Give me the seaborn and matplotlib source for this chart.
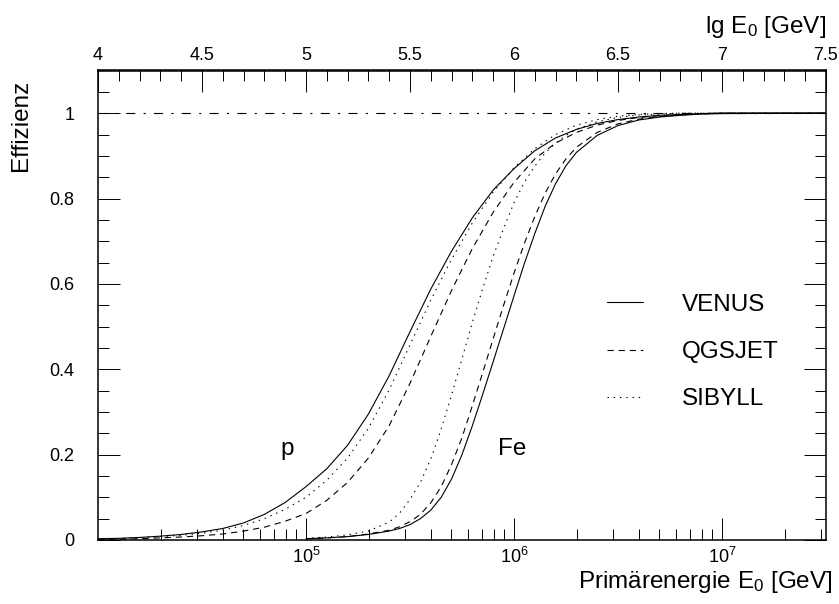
import numpy as np
import pandas as pd
import matplotlib
matplotlib.use("Agg")
import matplotlib.pyplot as plt
from matplotlib.lines import Line2D
from matplotlib.ticker import FixedLocator, LogLocator, MultipleLocator, FormatStrFormatter, NullFormatter
import seaborn as sns

# ---------------- data ----------------
lg_p = [4.0, 4.1, 4.2, 4.3, 4.4, 4.5, 4.6, 4.7, 4.8, 4.9, 5.0, 5.1, 5.2, 5.3, 5.4,
        5.5, 5.6, 5.7, 5.8, 5.9, 6.0, 6.1, 6.2, 6.3, 6.4, 6.5, 6.6, 6.7, 6.8, 6.9,
        7.0, 7.5]
venus_p = [0.003, 0.004, 0.006, 0.009, 0.013, 0.019, 0.027, 0.040, 0.060, 0.088,
           0.125, 0.167, 0.222, 0.295, 0.385, 0.488, 0.588, 0.677, 0.755, 0.82,
           0.87, 0.912, 0.942, 0.962, 0.976, 0.985, 0.991, 0.995, 0.997, 0.999,
           1.0, 1.0]
qgsjet_p = [0.001, 0.002, 0.003, 0.005, 0.007, 0.010, 0.014, 0.021, 0.030, 0.044,
            0.062, 0.093, 0.135, 0.192, 0.268, 0.367, 0.477, 0.585, 0.683, 0.768,
            0.838, 0.893, 0.93, 0.955, 0.972, 0.983, 0.99, 0.994, 0.997, 0.999,
            1.0, 1.0]
sibyll_p = [0.002, 0.003, 0.005, 0.008, 0.011, 0.016, 0.023, 0.034, 0.05, 0.072,
            0.10, 0.14, 0.192, 0.262, 0.352, 0.457, 0.562, 0.658, 0.743, 0.815,
            0.872, 0.917, 0.950, 0.972, 0.985, 0.993, 0.997, 0.999, 1.0, 1.0,
            1.0, 1.0]

lg_fe = [5.0, 5.1, 5.2, 5.3, 5.4, 5.45, 5.5, 5.55, 5.6, 5.65, 5.7, 5.75, 5.8, 5.85,
         5.9, 5.95, 6.0, 6.05, 6.1, 6.15, 6.2, 6.25, 6.3, 6.4, 6.5, 6.6, 6.7, 6.8,
         6.9, 7.0, 7.5]
venus_fe = [0.003, 0.005, 0.008, 0.013, 0.021, 0.027, 0.036, 0.05, 0.07, 0.10,
            0.143, 0.20, 0.268, 0.342, 0.418, 0.495, 0.572, 0.648, 0.718, 0.782,
            0.835, 0.877, 0.908, 0.948, 0.971, 0.984, 0.991, 0.995, 0.998, 0.999,
            1.0]
qgsjet_fe = [0.003, 0.005, 0.008, 0.014, 0.023, 0.031, 0.043, 0.06, 0.087, 0.125,
             0.177, 0.24, 0.315, 0.393, 0.472, 0.55, 0.625, 0.695, 0.758, 0.813,
             0.858, 0.893, 0.92, 0.955, 0.975, 0.986, 0.992, 0.996, 0.998, 1.0,
             1.0]
sibyll_fe = [0.004, 0.007, 0.012, 0.021, 0.042, 0.063, 0.095, 0.135, 0.19, 0.26,
             0.34, 0.425, 0.51, 0.59, 0.665, 0.73, 0.79, 0.838, 0.876, 0.907,
             0.93, 0.948, 0.962, 0.98, 0.99, 0.996, 0.998, 1.0, 1.0, 1.0,
             1.0]

models = ["VENUS", "QGSJET", "SIBYLL"]
particles = ["p", "Fe"]
ref_level = 1.0
top_ticks = [4, 4.5, 5, 5.5, 6, 6.5, 7, 7.5]
bottom_major = [1e5, 1e6, 1e7]

# ---------------- build long table ----------------
series = {
    ("VENUS", "p"): (lg_p, venus_p), ("QGSJET", "p"): (lg_p, qgsjet_p),
    ("SIBYLL", "p"): (lg_p, sibyll_p), ("VENUS", "Fe"): (lg_fe, venus_fe),
    ("QGSJET", "Fe"): (lg_fe, qgsjet_fe), ("SIBYLL", "Fe"): (lg_fe, sibyll_fe),
}
rows = []
for (m, part), (lgs, vals) in series.items():
    for l, v in zip(lgs, vals):
        rows.append({"model": m, "particle": part, "E": 10.0 ** l, "eff": v})
df = pd.DataFrame(rows)

# ---------------- style ----------------
sns.set_theme(style="ticks")
plt.rcParams["font.family"] = ["Liberation Sans", "DejaVu Sans"]
plt.rcParams["mathtext.fontset"] = "custom"
plt.rcParams["mathtext.rm"] = "Liberation Sans"
plt.rcParams["mathtext.it"] = "Liberation Sans:italic"
plt.rcParams["mathtext.bf"] = "Liberation Sans:bold"
plt.rcParams["lines.scale_dashes"] = False
for k in ["text.color", "axes.labelcolor", "xtick.color", "ytick.color", "axes.edgecolor"]:
    plt.rcParams[k] = "black"

TICK_FS = 13
BIG_FS = 17.5
LW = 0.8

dash_map = {"VENUS": "", "QGSJET": (4.5, 3.5), "SIBYLL": (1.0, 3.5)}

fig = plt.figure(figsize=(8.39, 6.04), dpi=100)
ax = fig.add_axes([98 / 839, 1 - 540 / 604, 728 / 839, 469.5 / 604])

sns.lineplot(data=df, x="E", y="eff", style="model", units="particle",
             estimator=None, sort=False, color="black", linewidth=LW,
             dashes=dash_map, style_order=models, legend=False, ax=ax)

ax.axhline(ref_level, color="black", lw=LW, linestyle=(0, (6.5, 6, 1.5, 6)), zorder=1)

ax.set_xscale("log")
ax.set_xlim(1e4, 10 ** 7.5)
ax.set_ylim(0, 1.1)

# bottom axis ticks
ax.xaxis.set_major_locator(FixedLocator(bottom_major))
ax.xaxis.set_minor_locator(LogLocator(base=10, subs=np.arange(2, 10), numticks=20))
ax.xaxis.set_minor_formatter(NullFormatter())
ax.tick_params(axis="x", which="both", direction="in", top=False, bottom=True,
               labelsize=TICK_FS, pad=5)
# y ticks
ax.yaxis.set_major_locator(MultipleLocator(0.2))
ax.yaxis.set_minor_locator(MultipleLocator(0.05))
ax.yaxis.set_major_formatter(FormatStrFormatter("%g"))
ax.tick_params(axis="y", which="both", direction="in", left=True, right=True,
               labelsize=TICK_FS, pad=17)
ax.tick_params(which="major", length=16, width=0.7, color="black")
ax.tick_params(which="minor", length=8, width=0.7, color="black")
for s in ax.spines.values():
    s.set_linewidth(1.1)
    s.set_color("black")

# top axis in lg E0
secax = ax.secondary_xaxis("top", functions=(np.log10, lambda v: np.power(10.0, v)))
secax.xaxis.set_major_locator(FixedLocator(top_ticks))
secax.xaxis.set_minor_locator(MultipleLocator(0.1))
secax.xaxis.set_major_formatter(FormatStrFormatter("%g"))
secax.xaxis.set_minor_formatter(NullFormatter())
secax.tick_params(which="both", direction="in", labelsize=TICK_FS, pad=5, color="black")
secax.tick_params(which="major", length=16, width=0.7)
secax.tick_params(which="minor", length=8, width=0.7)
secax.spines["top"].set_linewidth(1.1)
secax.set_xlabel(r"lg $\mathregular{E_0}$ [GeV]", loc="right", fontsize=BIG_FS, labelpad=10)

ax.set_xlabel(r"Primärenergie $\mathregular{E_0}$ [GeV]", loc="right", fontsize=BIG_FS)
ax.xaxis.set_label_coords(1.0096, -0.062)
ax.set_ylabel("Effizienz", loc="top", fontsize=BIG_FS)
ax.yaxis.set_label_coords(-0.09, 0.98)

# particle labels
ax.text(10 ** 4.875, 0.2, "p", fontsize=BIG_FS, ha="left", va="baseline")
ax.text(10 ** 5.923, 0.2, "Fe", fontsize=BIG_FS, ha="left", va="baseline")

# legend
handles = [Line2D([], [], color="black", lw=LW,
                  linestyle="-" if dash_map[m] == "" else (0, dash_map[m])) for m in models]
ax.legend(handles, models, loc="upper left", bbox_to_anchor=(0.699, 0.524),
          frameon=False, fontsize=BIG_FS, handlelength=1.48, handletextpad=1.6,
          labelspacing=1.03, borderpad=0, borderaxespad=0)

fig.savefig("out.png", dpi=100)
